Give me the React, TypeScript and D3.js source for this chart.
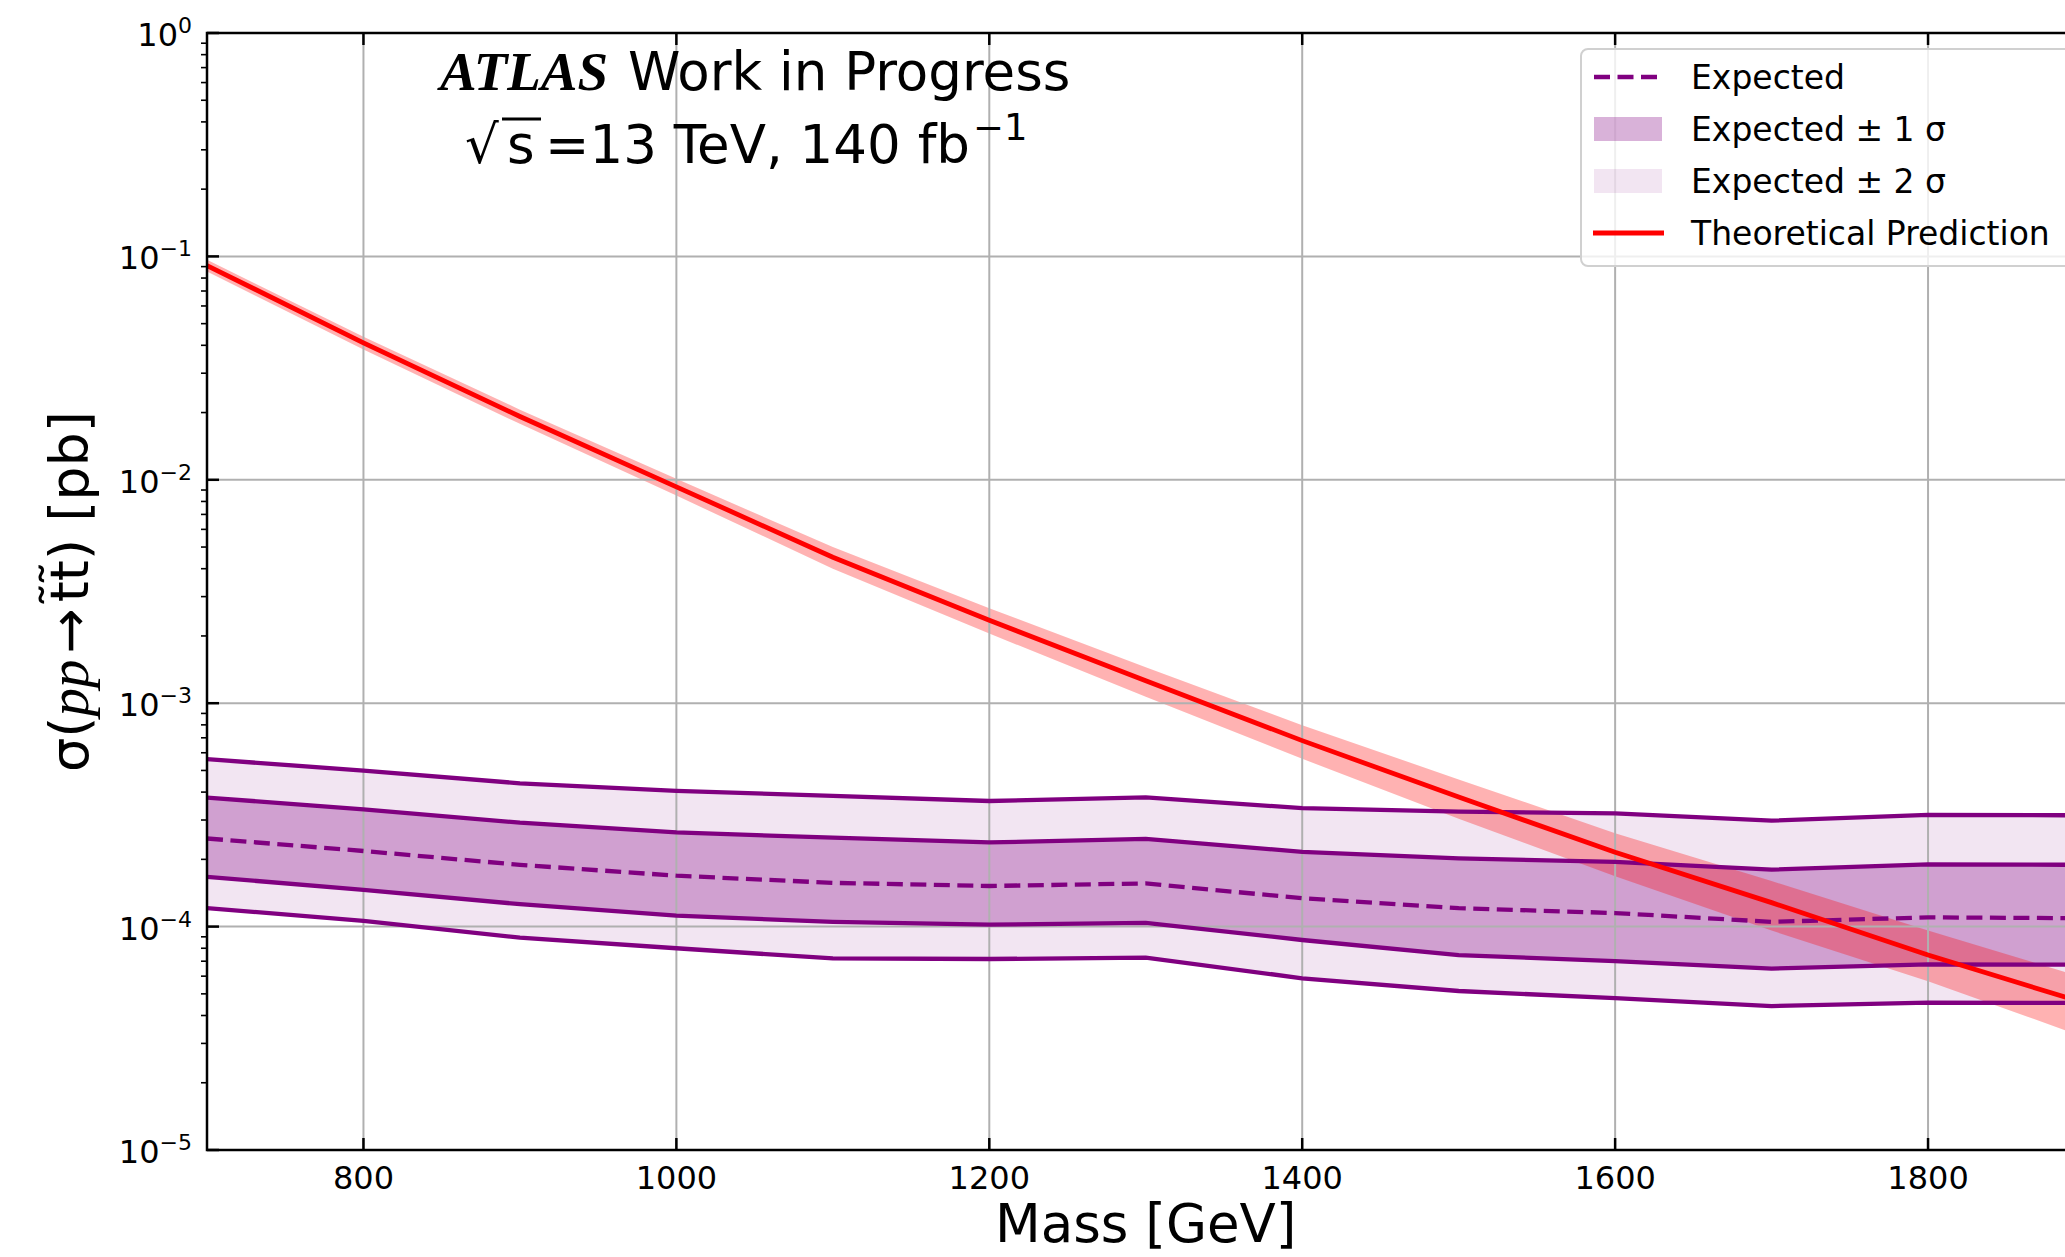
import React from 'react'
import * as d3 from 'd3'

// stop mass points [GeV]
const masses = [700, 800, 900, 1000, 1100, 1200, 1300, 1400, 1500, 1600, 1700, 1800, 1900]

// expected limit and bands [pb]
const expected = [2.48e-4, 2.18e-4, 1.89e-4, 1.69e-4, 1.57e-4, 1.52e-4, 1.56e-4, 1.34e-4, 1.21e-4, 1.15e-4, 1.05e-4, 1.10e-4, 1.09e-4]
const plus1 = [3.78e-4, 3.35e-4, 2.92e-4, 2.64e-4, 2.50e-4, 2.38e-4, 2.47e-4, 2.16e-4, 2.02e-4, 1.95e-4, 1.80e-4, 1.90e-4, 1.89e-4]
const minus1 = [1.67e-4, 1.46e-4, 1.26e-4, 1.12e-4, 1.05e-4, 1.02e-4, 1.04e-4, 8.71e-5, 7.46e-5, 7.0e-5, 6.49e-5, 6.78e-5, 6.75e-5]
const plus2 = [5.62e-4, 4.99e-4, 4.38e-4, 4.05e-4, 3.85e-4, 3.65e-4, 3.79e-4, 3.39e-4, 3.27e-4, 3.21e-4, 2.98e-4, 3.16e-4, 3.15e-4]
const minus2 = [1.21e-4, 1.06e-4, 8.92e-5, 8.0e-5, 7.2e-5, 7.16e-5, 7.26e-5, 5.87e-5, 5.15e-5, 4.78e-5, 4.41e-5, 4.57e-5, 4.55e-5]

// theoretical cross section and its uncertainty band [pb]
const theory = [0.091, 0.041, 0.0192, 0.0093, 0.0045, 0.00235, 0.00126, 6.8e-4, 3.8e-4, 2.15e-4, 1.28e-4, 7.46e-5, 4.55e-5]
const theoryUp = [0.0965, 0.0437, 0.0206, 0.0101, 0.0050, 0.00266, 0.00145, 7.96e-4, 4.56e-4, 2.62e-4, 1.60e-4, 9.6e-5, 5.9e-5]
const theoryDown = [0.0855, 0.0383, 0.0178, 0.0085, 0.0040, 0.00205, 0.00107, 5.64e-4, 3.04e-4, 1.68e-4, 9.6e-5, 5.7e-5, 3.2e-5]

const xTicks = [800, 1000, 1200, 1400, 1600, 1800]
const yExponents = [0, -1, -2, -3, -4, -5]

const legendItems = ['Expected', 'Expected \u00b1 1 \u03c3', 'Expected \u00b1 2 \u03c3', 'Theoretical Prediction']

const W = 2065
const H = 1257
const left = 207
const right = 2084.5
const top = 33
const bottom = 1150

const sans = 'DejaVu Sans, sans-serif'
const purple = '#800080'

export default function App() {
  const x = d3.scaleLinear().domain([700, 1900]).range([left, right])
  const y = d3.scaleLog().domain([1e-5, 1]).range([bottom, top])

  const band = (lo: number[], hi: number[]) =>
    d3.area<number>()
      .x((_, i) => x(masses[i]))
      .y0((_, i) => y(lo[i]))
      .y1((_, i) => y(hi[i]))(masses) || ''

  const line = (vals: number[]) =>
    d3.line<number>()
      .x((_, i) => x(masses[i]))
      .y((_, i) => y(vals[i]))(masses) || ''

  const minorTicks: number[] = []
  for (let k = -5; k < 0; k++) {
    for (let m = 2; m <= 9; m++) minorTicks.push(m * Math.pow(10, k))
  }

  const rowY = [77, 129, 181, 233]
  const hx0 = 1594
  const hx1 = 1662

  return (
    <svg width={W} height={H} style={{position: 'absolute', left: 0, top: 0, background: '#fff'}}>
      <defs>
        <clipPath id="plot">
          <rect x={left} y={top} width={right - left} height={bottom - top} />
        </clipPath>
      </defs>

      <g clipPath="url(#plot)">
        <path d={band(minus2, plus2)} fill={purple} fillOpacity={0.1} />
        <path d={band(minus1, plus1)} fill={purple} fillOpacity={0.3} />
        <path d={band(theoryDown, theoryUp)} fill="red" fillOpacity={0.3} />

        {xTicks.map(t => (
          <line key={'gx' + t} x1={x(t)} x2={x(t)} y1={top} y2={bottom} stroke="#b0b0b0" strokeWidth={2} />
        ))}
        {yExponents.map(e => (
          <line key={'gy' + e} x1={left} x2={right} y1={y(Math.pow(10, e))} y2={y(Math.pow(10, e))} stroke="#b0b0b0" strokeWidth={2} />
        ))}

        {[plus2, plus1, minus1, minus2].map((v, i) => (
          <path key={'l' + i} d={line(v)} fill="none" stroke={purple} strokeWidth={4.3} />
        ))}
        <path d={line(expected)} fill="none" stroke={purple} strokeWidth={4.3} strokeDasharray="16 7.5" />
        <path d={line(theory)} fill="none" stroke="red" strokeWidth={4.8} />
      </g>

      {/* spines */}
      <rect x={left} y={top} width={right - left} height={bottom - top} fill="none" stroke="#000" strokeWidth={2.5} />

      {/* x ticks, inward on bottom and top */}
      {xTicks.map(t => (
        <g key={'xt' + t}>
          <line x1={x(t)} x2={x(t)} y1={bottom} y2={bottom - 12} stroke="#000" strokeWidth={2.5} />
          <line x1={x(t)} x2={x(t)} y1={top} y2={top + 12} stroke="#000" strokeWidth={2.5} />
          <text x={x(t)} y={1189} textAnchor="middle" fontFamily={sans} fontSize={32}>{t}</text>
        </g>
      ))}

      {/* y ticks: major inward, minor outward */}
      {yExponents.map(e => (
        <g key={'yt' + e}>
          <line x1={left} x2={left + 12} y1={y(Math.pow(10, e))} y2={y(Math.pow(10, e))} stroke="#000" strokeWidth={2.5} />
          <text x={192} y={y(Math.pow(10, e)) + 13} textAnchor="end" fontFamily={sans} fontSize={32}>
            10<tspan dy={-13} fontSize={22}>{e === 0 ? '0' : '\u2212' + Math.abs(e)}</tspan>
          </text>
        </g>
      ))}
      {minorTicks.map((v, i) => (
        <line key={'mt' + i} x1={left} x2={left - 6} y1={y(v)} y2={y(v)} stroke="#000" strokeWidth={1.6} />
      ))}

      {/* axis titles */}
      <text x={(left + right) / 2} y={1242} textAnchor="middle" fontFamily={sans} fontSize={53}>Mass [GeV]</text>
      <text transform={`translate(88, ${(top + bottom) / 2}) rotate(-90)`} textAnchor="middle" fontFamily={sans} fontSize={54}>
        σ(<tspan fontFamily="Liberation Serif, serif" fontStyle="italic" fontSize={57}>pp</tspan>
        <tspan dx={6}>→</tspan><tspan dx={6}>t̃t̃</tspan>) [pb]
      </text>

      {/* ATLAS label */}
      <text x={440} y={90} fontFamily="Liberation Serif, serif" fontWeight="bold" fontStyle="italic" fontSize={55}>ATLAS</text>
      <text x={628} y={90} fontFamily={sans} fontSize={53}>Work in Progress</text>
      <text x={465} y={163} fontFamily={sans} fontSize={53}>√</text>
      <line x1={502} x2={541} y1={119} y2={119} stroke="#000" strokeWidth={3} />
      <text x={507} y={163} fontFamily={sans} fontSize={53}>s</text>
      <text x={545} y={163} fontFamily={sans} fontSize={53}>
        =13 TeV, 140 fb<tspan dx={3} dy={-23} fontSize={37}>−1</tspan>
      </text>

      {/* legend */}
      <rect x={1581} y={49} width={520} height={217} rx={7} fill="#fff" fillOpacity={0.8} stroke="#d0d0d0" strokeWidth={2} />
      <line x1={hx0} x2={hx1} y1={rowY[0]} y2={rowY[0]} stroke={purple} strokeWidth={4.3} strokeDasharray="16 7.5" />
      <rect x={hx0} y={rowY[1] - 12} width={hx1 - hx0} height={24} fill={purple} fillOpacity={0.3} />
      <rect x={hx0} y={rowY[2] - 12} width={hx1 - hx0} height={24} fill={purple} fillOpacity={0.1} />
      <line x1={hx0 - 1} x2={hx1 + 2} y1={rowY[3]} y2={rowY[3]} stroke="red" strokeWidth={4.8} />
      {legendItems.map((s, i) => (
        <text key={s} x={1691} y={rowY[i] + 12} fontFamily={sans} fontSize={33}>{s}</text>
      ))}
    </svg>
  )
}
